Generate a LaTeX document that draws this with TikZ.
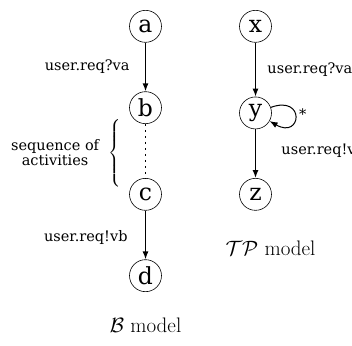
\documentclass[tikz,border=0pt]{standalone}
\usepackage{amsmath,amssymb}
\usepackage{fontspec}
\newfontfamily\lblfont{DejaVu Serif}
\usepackage{tikz}
\usetikzlibrary{arrows,arrows.meta,matrix,positioning}

\begin{document}
\begin{tikzpicture}[>={Latex[length=8pt,width=6pt]},
    state/.style={circle,draw,semithick,minimum size=32pt,inner sep=0pt,
      font=\lblfont\fontsize{23.5}{24}\selectfont},
    lbl/.style={font=\lblfont\fontsize{14.5}{15}\selectfont},
    capt/.style={font=\fontsize{21}{24}\selectfont},
    trans/.style={->,line width=1.3pt}]
%
  \useasboundingbox (0,0) rectangle (352pt,-345pt) ;
%
  \matrix (m) [matrix of nodes,nodes={state},column sep={110pt,between origins},
          row sep={84pt,between origins}] at (200.5pt,-151pt) {
%
    |[name=a]| a & |[name=x]| x \\
%
    |[name=b]| b & |[name=y]| y \\
%
    |[name=c]| c & |[name=z]| z \\
%
    |[name=d]| d & \\
%
  } ;
%
  \draw [trans] (a) -- (b) node [lbl,left=12pt,midway] {user.req?va} ;
  \draw [line width=1.6pt,dash pattern=on 1.6pt off 4.4pt] (b) -- (c) ;
  \draw [trans] (c) -- (d) node [lbl,left=14pt,midway,yshift=-2pt] {user.req!vb} ;
%
  \draw [trans] (x) -- (y) node [lbl,right=8pt,midway] {user.req?va} ;
  \draw [trans] (y) -- (z) node [lbl,right=22pt,midway,yshift=3pt] {user.req!vb} ;
  \draw [->,line width=1pt] (y) to [out=20,in=-30,min distance=37pt]
    node [lbl,right,yshift=2pt] {*} (y) ;
%
  \node (brace) [font=\fontsize{14}{15}\selectfont] at (115pt,-153pt)
    {$\left\{\rule[-30pt]{0pt}{60pt}\right.$} ;
  \node (seq) [lbl,left=2pt of brace,align=center] {sequence of\\activities} ;
%
  \node (bcap) [capt,below=22pt of d] {$\mathcal{B}$ model} ;
  \node (tpcap) [capt,below=27pt of z,xshift=15pt] {$\mathcal{TP}$ model} ;

\end{tikzpicture}
\end{document}
